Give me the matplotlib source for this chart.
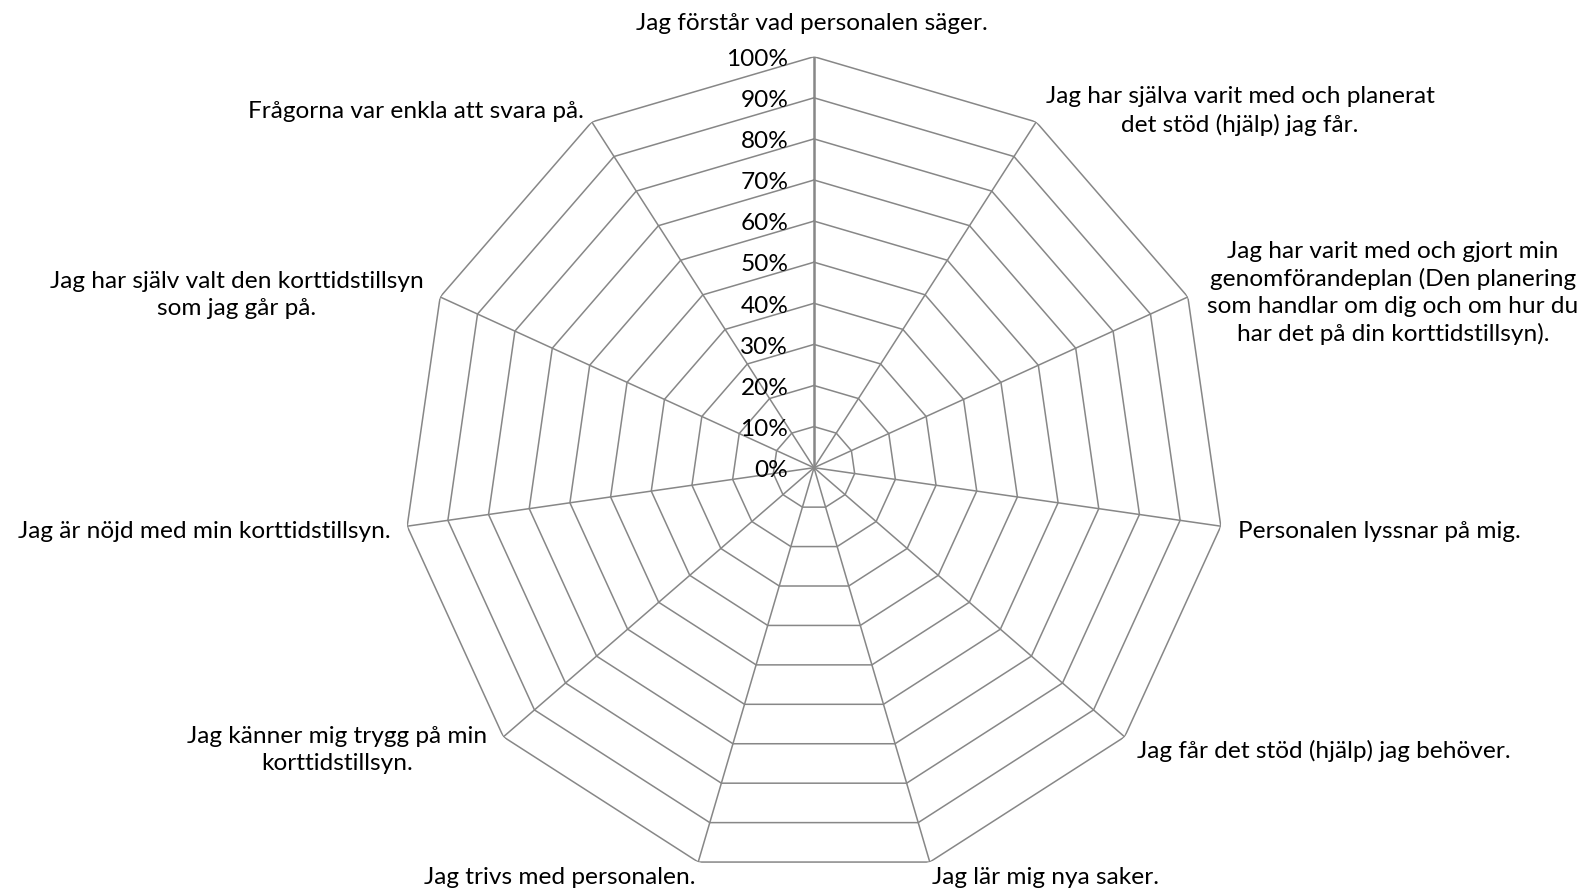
import numpy as np
import matplotlib
matplotlib.use("Agg")
import matplotlib.pyplot as plt

W, H = 1585, 889

categories = [
    "Jag förstår vad personalen säger.",
    "Jag har själva varit med och planerat\ndet stöd (hjälp) jag får.",
    "Jag har varit med och gjort min\ngenomförandeplan (Den planering\nsom handlar om dig och om hur du\nhar det på din korttidstillsyn).",
    "Personalen lyssnar på mig.",
    "Jag får det stöd (hjälp) jag behöver.",
    "Jag lär mig nya saker.",
    "Jag trivs med personalen.",
    "Jag känner mig trygg på min\nkorttidstillsyn.",
    "Jag är nöjd med min korttidstillsyn.",
    "Jag har själv valt den korttidstillsyn\nsom jag går på.",
    "Frågorna var enkla att svara på.",
]
levels = [0.0, 0.1, 0.2, 0.3, 0.4, 0.5, 0.6, 0.7, 0.8, 0.9, 1.0]
level_labels = ["0%", "10%", "20%", "30%", "40%", "50%", "60%", "70%", "80%", "90%", "100%"]

# label placement (pixel centres / anchors) and alignment
label_pos = [
    (812, 24, "center"),
    (1240, 111, "center"),
    (1393, 293, "center"),
    (1238, 531, "left"),
    (1137, 751, "left"),
    (932, 877, "left"),
    (695, 877, "right"),
    (337, 750, "center"),
    (391, 531, "right"),
    (237, 295, "center"),
    (584, 111, "right"),
]

plt.rcParams['font.family'] = ['Lato', 'DejaVu Sans']
FS = 17.6
GRID = "#878787"

fig = plt.figure(figsize=(W / 100, H / 100), dpi=100)
cx, cy, R = 814, 467.7, 411
ax = fig.add_axes([(cx - R) / W, (H - cy - R) / H, 2 * R / W, 2 * R / H], polar=True)
ax.set_theta_zero_location("N")
ax.set_theta_direction(-1)
ax.set_ylim(0, 1)
ax.grid(False)
ax.set_xticks([])
ax.set_yticks([])
ax.spines["polar"].set_visible(False)
ax.patch.set_alpha(0)

n = len(categories)
theta = np.arange(n) * 2 * np.pi / n
theta_c = np.append(theta, theta[0])

for lv in levels[1:]:
    ax.plot(theta_c, [lv] * (n + 1), color=GRID, lw=1.1, solid_joinstyle="miter")
for i, t in enumerate(theta):
    ax.plot([t, t], [0, 1], color=GRID, lw=1.8 if i == 0 else 1.1)

for lv, lab in zip(levels, level_labels):
    ax.annotate(lab, xy=(0, lv), xytext=(-18.5, -2), textcoords="offset points",
                ha="right", va="center", fontsize=FS, color="#000000")

for lab, (x, y, ha) in zip(categories, label_pos):
    fig.text(x / W, 1 - y / H, lab, ha=ha, va="center", multialignment="center",
             fontsize=FS, color="#000000", linespacing=1.33)

fig.savefig("out.png", dpi=100, facecolor="white")
